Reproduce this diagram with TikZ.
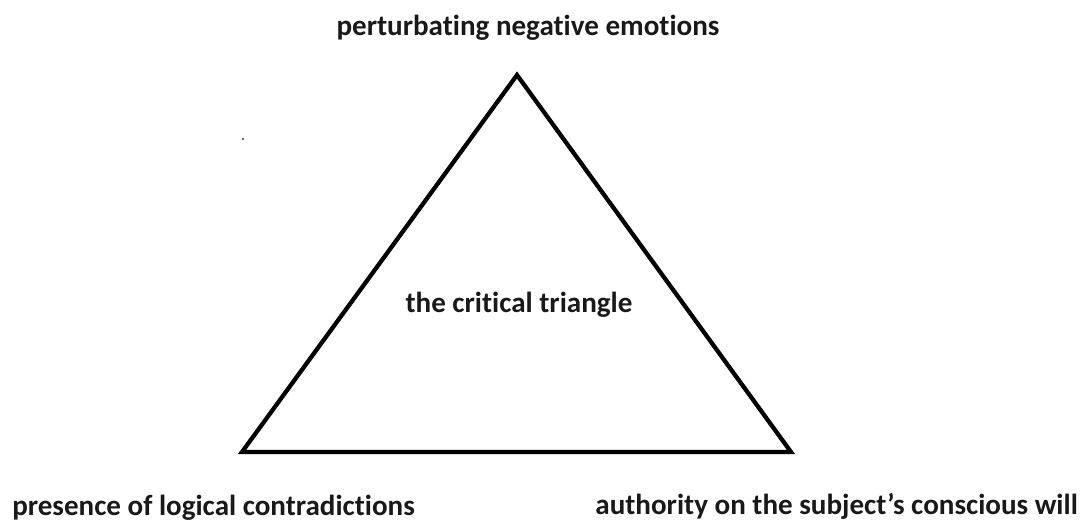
\documentclass[tikz,border=0pt]{standalone}
\usepackage{fontspec}
\setmainfont[Ligatures=NoCommon]{Carlito}
\begin{document}
\begin{tikzpicture}[x=0.75pt,y=-0.75pt,
  lbl/.style={font=\bfseries\fontsize{21.8}{26}\selectfont, inner sep=0pt, text=black!90},
  tri/.style={line width=3.2pt, line join=miter, black}]
\useasboundingbox (0,0) rectangle (1086,522);
\coordinate (A) at (517,75);
\coordinate (B) at (242,452);
\coordinate (C) at (791,452);
\draw[tri] (A) -- (B) -- (C) -- cycle;
\node[lbl, anchor=base] (top) at (528,35) {perturbating negative emotions};
\node[lbl, anchor=base] (mid) at (519,312) {the critical triangle};
\node[lbl, anchor=base west] (bl) at (12,515) {presence of logical contradictions};
\node[lbl, anchor=base east] (br) at (1078,514) {authority on the subject’s conscious will};
\fill[black!60] (243,139) circle (1.3);
\end{tikzpicture}
\end{document}
